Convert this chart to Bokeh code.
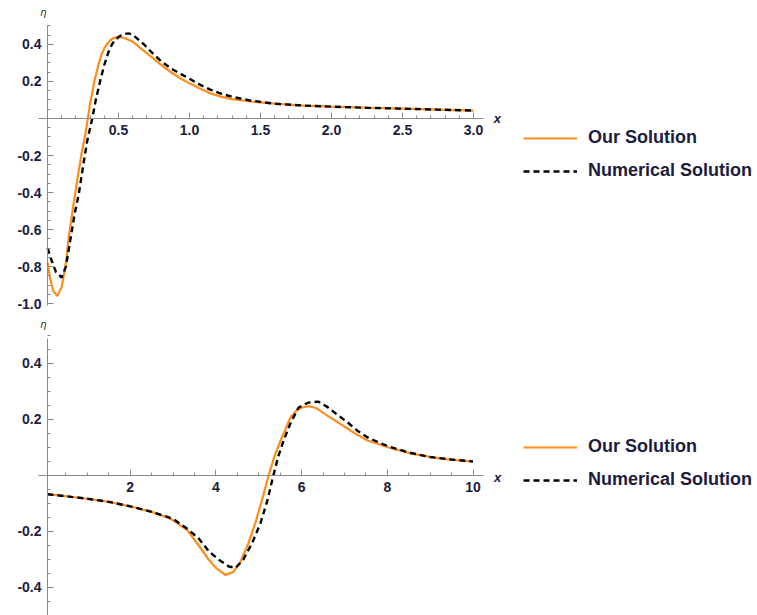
import numpy as np
from bokeh.plotting import figure
from bokeh.layouts import column
from bokeh.models import FixedTicker, Legend, LegendItem, Label, Range1d
from bokeh.embed import file_html
from bokeh.resources import INLINE

# ---------------- data: top panel ----------------
top_our_x = [0.0, 0.02, 0.04, 0.07, 0.10, 0.13, 0.15, 0.18, 0.21, 0.24, 0.27, 0.30,
             0.33, 0.36, 0.38, 0.40, 0.42, 0.44, 0.46, 0.49, 0.52, 0.55, 0.60, 0.655, 0.72, 0.80, 0.87,
             0.94, 1.0, 1.08, 1.15, 1.22, 1.30, 1.43, 1.6, 1.8, 2.0, 2.25, 2.5, 2.75, 3.0]
top_our_y = [-0.78, -0.87, -0.93, -0.96, -0.91, -0.78, -0.64, -0.48, -0.33, -0.19, -0.07, 0.08,
             0.20, 0.295, 0.345, 0.38, 0.403, 0.421, 0.433, 0.44, 0.439, 0.433, 0.415, 0.38, 0.34, 0.29, 0.25,
             0.215, 0.19, 0.16, 0.135, 0.118, 0.105, 0.092, 0.08, 0.07, 0.064, 0.058, 0.053, 0.048, 0.043]

top_num_x = [0.0, 0.03, 0.06, 0.10, 0.13, 0.16, 0.19, 0.22, 0.25, 0.28, 0.315, 0.34,
             0.37, 0.40, 0.43, 0.45, 0.47, 0.50, 0.52, 0.545, 0.57, 0.595, 0.62, 0.68, 0.73, 0.80, 0.87, 0.94,
             1.0, 1.08, 1.15, 1.22, 1.30, 1.43, 1.6, 1.8, 2.0, 2.25, 2.5, 2.75, 3.0]
top_num_y = [-0.70, -0.77, -0.83, -0.86, -0.80, -0.66, -0.52, -0.41, -0.26, -0.12, 0.0, 0.10,
             0.20, 0.29, 0.36, 0.395, 0.42, 0.44, 0.45, 0.457, 0.46, 0.455, 0.44, 0.40, 0.36, 0.31, 0.27, 0.24,
             0.215, 0.18, 0.155, 0.135, 0.117, 0.097, 0.08, 0.07, 0.064, 0.058, 0.053, 0.048, 0.043]

# ---------------- data: bottom panel ----------------
bot_our_x = [0.07, 0.5, 1.0, 1.5, 2.0, 2.5, 2.87, 3.0, 3.33, 3.6, 3.83, 4.0, 4.22, 4.4,
             4.57, 4.75, 4.92, 5.09, 5.23, 5.37, 5.51, 5.74, 5.9, 6.02, 6.16, 6.35, 6.6,
             6.85, 7.07, 7.3, 7.54, 8.03, 8.54, 9.08, 9.5, 10.0]
bot_our_y = [-0.067, -0.074, -0.083, -0.094, -0.11, -0.13, -0.15, -0.16, -0.195, -0.25, -0.30, -0.33, -0.355, -0.345,
             -0.31, -0.245, -0.17, -0.08, 0.0, 0.07, 0.125, 0.207, 0.235, 0.243, 0.248, 0.24, 0.214,
             0.19, 0.168, 0.145, 0.125, 0.10, 0.079, 0.064, 0.056, 0.05]

bot_num_x = [0.07, 0.5, 1.0, 1.5, 2.0, 2.5, 2.87, 3.0, 3.33, 3.6, 3.83, 4.06, 4.3, 4.46,
             4.64, 4.85, 5.04, 5.2, 5.34, 5.46, 5.58, 5.75, 5.93, 6.15, 6.39, 6.6, 6.85,
             7.07, 7.3, 7.54, 7.8, 8.03, 8.5, 9.0, 9.5, 10.0]
bot_num_y = [-0.067, -0.074, -0.083, -0.094, -0.11, -0.13, -0.148, -0.155, -0.19, -0.225, -0.27, -0.30, -0.325, -0.33,
             -0.30, -0.24, -0.17, -0.09, 0.0, 0.07, 0.125, 0.19, 0.243, 0.26, 0.264, 0.245, 0.215,
             0.19, 0.16, 0.136, 0.118, 0.104, 0.082, 0.066, 0.057, 0.05]

# ---------------- ticks ----------------
top_xticks = [0.5, 1.0, 1.5, 2.0, 2.5, 3.0]
top_xlabels = ["0.5", "1.0", "1.5", "2.0", "2.5", "3.0"]
top_yticks = [-1.0, -0.8, -0.6, -0.4, -0.2, 0.2, 0.4]
top_ylabels = ["-1.0", "-0.8", "-0.6", "-0.4", "-0.2", "0.2", "0.4"]
bot_xticks = [2, 4, 6, 8, 10]
bot_xlabels = ["2", "4", "6", "8", "10"]
bot_yticks = [-0.4, -0.2, 0.2, 0.4]
bot_ylabels = ["-0.4", "-0.2", "0.2", "0.4"]

series_labels = ["Our Solution", "Numerical Solution"]

ORANGE = "#FF8C1A"
TXT = "#1c1c40"
AXC = "#8a8a8a"
FONT = "Liberation Sans"


def style_axis(ax, ticks, labels, minor, bounds):
    ax.ticker = FixedTicker(ticks=ticks, minor_ticks=minor)
    ax.major_label_overrides = {t: l for t, l in zip(ticks, labels)}
    ax.bounds = bounds
    ax.axis_line_color = AXC
    ax.axis_line_width = 1
    ax.major_tick_line_color = AXC
    ax.minor_tick_line_color = AXC
    ax.major_tick_in = 6
    ax.major_tick_out = 0
    ax.minor_tick_in = 3
    ax.minor_tick_out = 0
    ax.major_label_text_font = FONT
    ax.major_label_text_font_style = "bold"
    ax.major_label_text_font_size = "14px"
    ax.major_label_text_color = TXT
    ax.major_label_standoff = 7


def make_panel(fh, view_x, view_y, xb, yb, yfix, xs1, ys1, xs2, ys2,
               xt, xl, xminor, yt, yl, yminor, leg_y, x_lab_dy):
    p = figure(frame_width=757, frame_height=fh, output_backend="svg", toolbar_location=None,
               x_range=Range1d(*view_x), y_range=Range1d(*view_y),
               min_border=0)
    p.outline_line_color = None
    p.xgrid.visible = False
    p.ygrid.visible = False
    p.xaxis.fixed_location = 0
    p.yaxis.fixed_location = yfix
    style_axis(p.xaxis[0], xt, xl, xminor, xb)
    style_axis(p.yaxis[0], yt, yl, yminor, yb)
    p.yaxis.major_label_standoff = 6

    r1 = p.line(xs1, ys1, line_color=ORANGE, line_width=2.2)
    r2 = p.line(xs2, ys2, line_color="black", line_width=2.4, line_dash="6 4")

    leg = Legend(items=[LegendItem(label=series_labels[0], renderers=[r1]),
                        LegendItem(label=series_labels[1], renderers=[r2])],
                 location=(523, leg_y), orientation="vertical")
    leg.label_text_font = FONT
    leg.label_text_font_style = "bold"
    leg.label_text_font_size = "18px"
    leg.label_text_color = TXT
    leg.glyph_width = 54
    leg.glyph_height = 20
    leg.spacing = 12
    leg.padding = 0
    leg.margin = 0
    leg.label_standoff = 11
    leg.border_line_color = None
    leg.background_fill_alpha = 0
    p.add_layout(leg, "center")

    p.add_layout(Label(x=yfix, y=yb[1], text="η", x_offset=-4, y_offset=8,
                       text_font=FONT, text_font_style="italic", text_font_size="11px",
                       text_color="#333333", text_align="center", text_baseline="bottom"))
    p.add_layout(Label(x=xb[1], y=0, text="x", x_offset=14, y_offset=x_lab_dy,
                       text_font=FONT, text_font_style="bold italic", text_font_size="13px",
                       text_color=TXT, text_align="center", text_baseline="middle"))
    return p


top = make_panel(311, (-0.331, 5.0), (-1.0432, 0.6378), (-0.063, 3.07), (-1.01, 0.5), 0,
                 top_our_x, top_our_y, top_num_x, top_num_y,
                 top_xticks, top_xlabels, [round(v, 2) for v in np.arange(0.1, 3.01, 0.1)],
                 top_yticks, top_ylabels, [round(v, 2) for v in np.arange(-1.0, 0.51, 0.05)],
                 130, 0)

bot = make_panel(304, (-1.0268, 16.639), (-0.5, 0.5857), (-0.14, 10.245), (-0.5, 0.49), 0.07,
                 bot_our_x, bot_our_y, bot_num_x, bot_num_y,
                 bot_xticks, bot_xlabels, [round(v, 2) for v in np.arange(0.5, 10.01, 0.5)],
                 bot_yticks, bot_ylabels, [round(v, 2) for v in np.arange(-0.5, 0.51, 0.05)],
                 125, -2)

layout = column(top, bot, spacing=0)
open("out.html", "w").write(file_html(layout, INLINE))
